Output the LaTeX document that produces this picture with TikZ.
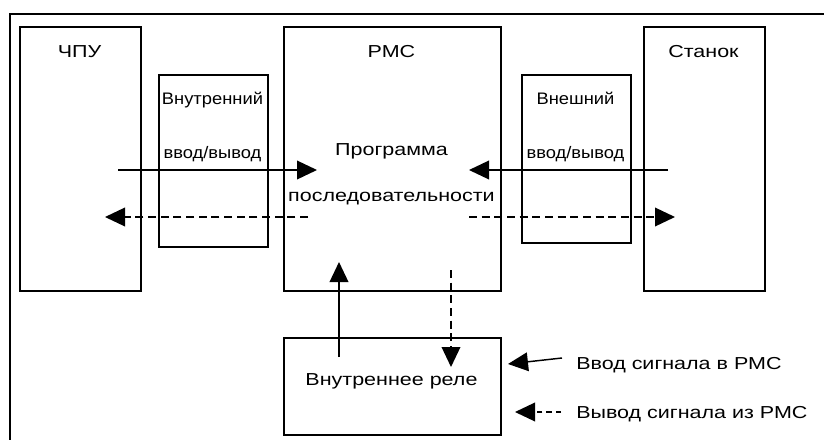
\documentclass[tikz,border=0pt]{standalone}
\usepackage{fontspec}
\setmainfont{Liberation Sans}
\newfontfamily\wideface{Liberation Sans}[FakeStretch=1.24]
\newfontfamily\ioface{Liberation Sans}[FakeStretch=1.1]
\usepackage{tikz}
\usetikzlibrary{arrows.meta,positioning}
\definecolor{cInk}{HTML}{000000}
\newlength\px
\setlength\px{0.75pt}
\tikzset{
  blk/.style ={draw=cInk, line width=1.4pt, anchor=north west, inner sep=0pt},
  lbl/.style ={anchor=base, inner sep=0pt, text=cInk, font=\wideface\fontsize{13}{15}\selectfont},
  iolbl/.style={lbl, font=\ioface\fontsize{12.5}{15}\selectfont},
  sig/.style ={-{Triangle[length=15pt,width=14pt]}, line width=1.1pt, draw=cInk},
  dsig/.style={sig, dash pattern=on 6pt off 3.5pt},
  frame/.style={line width=1.4pt, draw=cInk},
}
\begin{document}
\begin{tikzpicture}[x=0.75pt, y=-0.75pt]
    \useasboundingbox (0,0) rectangle (824,439);
    \draw[frame] (10,450) |- (835,14);
    % blocks
    \node[blk, minimum width=121*\px, minimum height=264*\px] (cnc) at (19,26) {};
    \node[blk, minimum width=109*\px, minimum height=172*\px] (inio) at (158,74) {};
    \node[blk, minimum width=217*\px, minimum height=264*\px] (pmc) at (283,26) {};
    \node[blk, minimum width=109*\px, minimum height=168*\px] (exio) at (521,74) {};
    \node[blk, minimum width=121*\px, minimum height=264*\px] (mach) at (643,26) {};
    \node[blk, minimum width=217*\px, minimum height=97*\px] (relay) at (283,337) {};
    % texts
    \node[lbl] (cncT) at (79.5,57) {ЧПУ};
    \node[lbl] (pmcT) at (391.5,57) {РМС};
    \node[lbl] (machT) at (703.5,57) {Станок};
    \node[iolbl] (inioA) at (212.5,104) {Внутренний};
    \node[iolbl] (inioB) at (212.5,158) {ввод/вывод};
    \node[iolbl] (exioA) at (575.5,104) {Внешний};
    \node[iolbl] (exioB) at (575.5,158) {ввод/вывод};
    \node[lbl] (progA) at (391.5,155) {Программа};
    \node[lbl] (progB) at (391.5,201) {последовательности};
    \node[lbl] (relayT) at (391.5,385) {Внутреннее реле};
    \node[lbl, anchor=base west] (legIn) at (576,369) {Ввод сигнала в РМС};
    \node[lbl, anchor=base west] (legOut) at (576,418) {Вывод сигнала из РМС};
    % arrow ends
    \coordinate (cncIn) at (118,170);  \coordinate (pmcInL) at (317,170);
    \coordinate (pmcOutL) at (308,217); \coordinate (cncOut) at (105,217);
    \coordinate (machIn) at (668,170); \coordinate (pmcInR) at (469,170);
    \coordinate (pmcOutR) at (469,217); \coordinate (machOut) at (675,217);
    \coordinate (relaySrc) at (339,357); \coordinate (pmcInB) at (339,262);
    \coordinate (pmcOutB) at (451,270); \coordinate (relayDst) at (451,367);
    \coordinate (legA1) at (562,358); \coordinate (legA2) at (508,364);
    \coordinate (legB1) at (561,412); \coordinate (legB2) at (515,412);
    \draw[sig](cncIn)--(pmcInL);\draw[dsig](pmcOutL)--(cncOut);
    \draw[sig](machIn)--(pmcInR);\draw[dsig](pmcOutR)--(machOut);
    \draw[sig](relaySrc)--(pmcInB);\draw[dsig](pmcOutB)--(relayDst);
    \draw[sig](legA1)--(legA2);
    \draw[sig, dash pattern=on 4pt off 3pt](legB1)--(legB2);
  \end{tikzpicture}
\end{document}
